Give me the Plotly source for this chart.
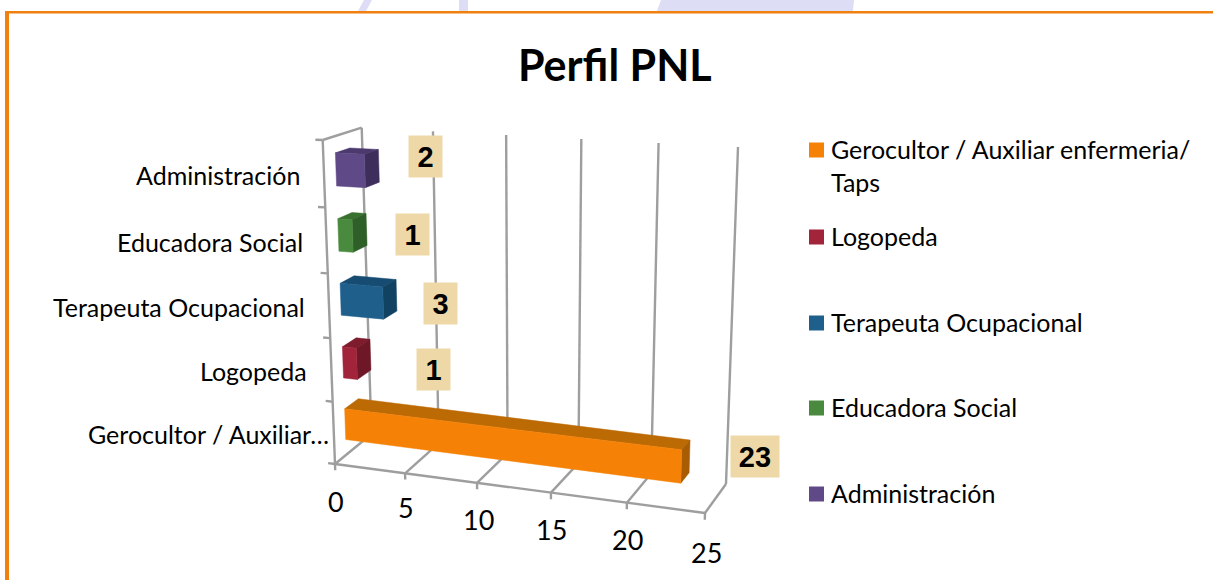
import plotly.graph_objects as go

# ---- data ----
categories = ["Gerocultor / Auxiliar enfermeria/ Taps", "Logopeda", "Terapeuta Ocupacional",
              "Educadora Social", "Administración"]
axis_labels = ["Gerocultor / Auxiliar…", "Logopeda", "Terapeuta Ocupacional",
               "Educadora Social", "Administración"]
values = [23, 1, 3, 1, 2]
value_ticks = [0, 5, 10, 15, 20, 25]

# ---- styles ----
FRONT = ["#F58206", "#A1243A", "#1F5F8C", "#4A8A3E", "#5F4A87"]
TOP = ["#BC6A04", "#7E1B2D", "#164C72", "#38702F", "#4C3A6E"]
SIDE = ["#A85C04", "#6E1726", "#124262", "#2F5F28", "#3E2E5C"]
GRID = "#9E9E9E"
FONT = "Lato"

# ---- perspective scene: value, category slot, depth -> page position ----
VMAX = 25
NCAT = 5
FB0, FB1 = (335, 464), (705, 513)     # front floor edge
BB0, BB1 = (371.5, 434), (726, 484)   # back floor edge
FT0, FT1 = (322.7, 140), (715, 156)   # front top edge
BT0, BT1 = (361.7, 127.7), (738, 147) # back top edge


def persp(u, k):
    return u / (u + (1 - u) * k)


def lerp(a, b, t):
    return (a[0] + (b[0] - a[0]) * t, a[1] + (b[1] - a[1]) * t)


def project(v, c, d):
    tv = persp(v / VMAX, 1.07)
    th = persp(c / NCAT, 1.05)
    fb, bb = lerp(FB0, FB1, tv), lerp(BB0, BB1, tv)
    ft, bt = lerp(FT0, FT1, tv), lerp(BT0, BT1, tv)
    return lerp(lerp(fb, bb, d), lerp(ft, bt, d), th)


def poly(points, color):
    pts = [project(*p) for p in points]
    pts.append(pts[0])
    return go.Scatter(x=[p[0] for p in pts], y=[p[1] for p in pts], mode="lines", fill="toself",
                      fillcolor=color, line=dict(width=0.5, color=color), hoverinfo="skip",
                      showlegend=False)


def line(a, b, width=2.4):
    pa, pb = project(*a), project(*b)
    return go.Scatter(x=[pa[0], pb[0]], y=[pa[1], pb[1]], mode="lines",
                      line=dict(color=GRID, width=width), hoverinfo="skip", showlegend=False)


fig = go.Figure()

# back wall grid, floor grid, axes
for v in value_ticks:
    fig.add_trace(line((v, 0, 1), (v, NCAT, 1)))
    fig.add_trace(line((v, 0, 0), (v, 0, 1)))
    fig.add_trace(line((v, 0, 0), (v, -0.1, 0)))
fig.add_trace(line((0, 0, 0), (VMAX, 0, 0)))
fig.add_trace(line((0, 0, 0), (0, NCAT, 0)))
fig.add_trace(line((0, NCAT, 0), (0, NCAT, 1)))
for c in range(NCAT + 1):
    fig.add_trace(line((0, c, 0), (-0.5, c, 0)))

# bars
D0, D1 = 0.31, 0.68
for i, val in enumerate(values):
    c0, c1 = i + 0.25, i + 0.75
    fig.add_trace(poly([(0, c1, D0), (val, c1, D0), (val, c1, D1), (0, c1, D1)], TOP[i]))
    fig.add_trace(poly([(val, c0, D0), (val, c1, D0), (val, c1, D1), (val, c0, D1)], SIDE[i]))
    fig.add_trace(poly([(0, c0, D0), (val, c0, D0), (val, c1, D0), (0, c1, D0)], FRONT[i]))

ann = []


def text(x, y, s, size=25, anchor="center", color="#000000", family=FONT, bold=False):
    ann.append(dict(x=x, y=y, xref="x", yref="y", text=f"<b>{s}</b>" if bold else s, showarrow=False,
                    xanchor=anchor, yanchor="middle", font=dict(size=size, color=color, family=family)))


text(615, 64, "Perfil PNL", size=43, bold=True)

# value tick labels
TICK_DY = [37, 34, 37, 37, 37, 39]
for v, dy in zip(value_ticks, TICK_DY):
    p = project(v, 0, 0)
    text(p[0] + 1, p[1] + dy, str(v), size=27)

# category labels
LABEL_SHIFT = [-3, -22, -22, -22, -22]
for i, lab in enumerate(axis_labels):
    p = project(0, i + 0.5, 0)
    text(p[0] + LABEL_SHIFT[i], p[1] + 1, lab, anchor="right")

# data labels
LABEL_CENTRES = [(755, 456), (433, 369.5), (440.5, 303), (412.5, 234.5), (425, 156.5)]
for val, (cx, cy) in zip(values, LABEL_CENTRES):
    w = 48 if val >= 10 else 33
    ann.append(dict(x=cx, y=cy, xref="x", yref="y", text=f"<b>{val}</b>", showarrow=False,
                    width=w, height=41, bgcolor="#EED8A7", align="center", valign="middle",
                    borderpad=0, xanchor="center", yanchor="middle",
                    font=dict(size=29, color="#000000", family="Liberation Sans")))

# legend
shapes = []
LEGEND_ROWS = [[("Gerocultor / Auxiliar enfermeria/", 149), ("Taps", 182)],
               [("Logopeda", 236)], [("Terapeuta Ocupacional", 322)],
               [("Educadora Social", 407)], [("Administración", 493)]]
for i, rows in enumerate(LEGEND_ROWS):
    y0 = rows[0][1] + 1
    shapes.append(dict(type="rect", xref="x", yref="y", x0=809, x1=824, y0=y0 - 7.5, y1=y0 + 7.5,
                       fillcolor=FRONT[i], line=dict(width=0), layer="above"))
    for s, y in rows:
        text(829, y, s, anchor="left")

# watermark remnants and page border
for path in ["M358,11 L364,0 L372,0 L366,11 Z", "M459,0 L468,0 L468,11 L459,11 Z",
             "M657,11 L661,0 L854,0 L853,11 Z"]:
    shapes.append(dict(type="path", path=path, xref="x", yref="y", fillcolor="#DDDDF5",
                       line=dict(width=0), layer="below"))
shapes.append(dict(type="rect", xref="x", yref="y", x0=5, x1=1213, y0=11, y1=13.5,
                   fillcolor="#F08010", line=dict(width=0), layer="above"))
shapes.append(dict(type="rect", xref="x", yref="y", x0=5, x1=9, y0=11, y1=580,
                   fillcolor="#F08010", line=dict(width=0), layer="above"))

fig.update_layout(
    width=1213, height=580, margin=dict(l=0, r=0, t=0, b=0),
    paper_bgcolor="white", plot_bgcolor="white", showlegend=False,
    xaxis=dict(range=[0, 1213], visible=False, fixedrange=True),
    yaxis=dict(range=[580, 0], visible=False, fixedrange=True),
    annotations=ann, shapes=shapes,
)
fig.write_html("out.html", config=dict(displayModeBar=False),
               post_script="document.body.style.margin='0';document.body.style.overflow='hidden';")
